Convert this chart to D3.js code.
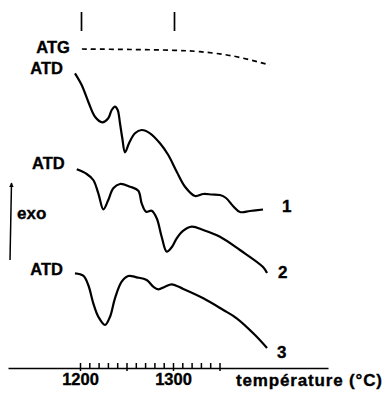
<!DOCTYPE html>
<html>
<head>
<meta charset="utf-8">
<script src="https://cdn.jsdelivr.net/npm/d3@7"></script>
<style>
  body { margin: 0; background: #fff; }
  svg { display: block; font-family: "Liberation Sans", Arial, sans-serif; font-weight: bold; }
  svg text { stroke: #000; stroke-width: 0.35px; fill: #000; }
</style>
</head>
<body>
<script>
// temperature (°C), signal (arbitrary units)
const atg = [[1202, 31.9], [1254, 31.85], [1301, 31.77], [1329, 31.63], [1364.5, 31.2], [1404, 30.3]];

const atd1 = [
  [1194.6, 29.47], [1201.8, 28.3], [1208.9, 26.63], [1216.1, 25.13], [1224.0, 24.57],
  [1230.4, 24.97], [1234.1, 25.8], [1237.6, 26.13], [1240.5, 25.8], [1243.0, 24.47],
  [1245.5, 22.97], [1248.4, 21.57], [1252.7, 22.47], [1259.1, 23.47], [1266.3, 23.8],
  [1275.3, 23.47], [1286.0, 22.47], [1294.9, 21.3], [1304.0, 19.63], [1312.9, 18.13],
  [1323.7, 17.2], [1332.6, 17.4], [1341.9, 17.35], [1350.5, 17.3], [1357.0, 17.0],
  [1364.5, 16.2], [1372.0, 15.6], [1382.8, 15.7], [1396.8, 15.85]
];

const atd2 = [
  [1196.5, 19.87], [1207.2, 19.4], [1214.3, 18.8], [1219.7, 17.47], [1225.1, 15.87],
  [1230.4, 16.8], [1235.8, 17.97], [1243.0, 18.4], [1253.8, 18.13], [1262.7, 17.73],
  [1266.3, 16.47], [1271.0, 15.63], [1277.1, 15.73], [1282.5, 14.97], [1287.8, 13.13],
  [1293.2, 11.63], [1298.6, 12.07], [1304.0, 12.97], [1311.1, 13.73], [1320.1, 14.13],
  [1332.6, 13.8], [1350.5, 13.13], [1372.0, 11.8], [1396.8, 10.1], [1401.1, 9.5]
];

const atd3 = [
  [1194.6, 9.47], [1203.5, 9.23], [1208.9, 8.3], [1214.3, 6.47], [1219.7, 5.13],
  [1226.9, 4.3], [1232.3, 5.13], [1237.6, 6.97], [1244.8, 8.63], [1251.9, 9.2],
  [1261.0, 9.07], [1271.7, 8.8], [1278.8, 8.13], [1284.2, 7.87], [1291.4, 8.13],
  [1298.6, 8.37], [1311.1, 7.9], [1332.6, 6.97], [1354.1, 5.8], [1368.5, 4.97],
  [1388.2, 3.3], [1401.1, 2.0]
];

const curveNames = ["1", "2", "3"];
const minorTicks = d3.range(1200, 1351, 10);
const longTicks = [1200, 1250, 1300, 1350];
const tickLabels = [1200, 1300];
const markerTemps = [1200, 1300];
const axisExtent = [1122.6, 1466.7];
const axisTitle = "température (°C)";

const width = 384;
const height = 395;
const axisY = 368;

const x = d3.scaleLinear().domain([1200, 1300]).range([80, 173]);
const y = d3.scaleLinear().domain([0, 36]).range([368, 8]);

const svg = d3.create("svg")
  .attr("width", width)
  .attr("height", height);

svg.append("rect").attr("width", width).attr("height", height).attr("fill", "#fff");

const line = d3.line()
  .x(d => x(d[0]))
  .y(d => y(d[1]))
  .curve(d3.curveCatmullRom.alpha(0.5));

// ATG (dashed)
svg.append("path")
  .attr("fill", "none")
  .attr("stroke", "#000")
  .attr("stroke-width", 1.7)
  .attr("stroke-dasharray", "5,4")
  .attr("d", line(atg));

// ATD curves
const curves = [atd1, atd2, atd3];
svg.append("g")
  .attr("fill", "none")
  .attr("stroke", "#000")
  .attr("stroke-width", 2.2)
  .attr("stroke-linejoin", "round")
  .selectAll("path")
  .data(curves)
  .join("path")
  .attr("d", d => line(d));

// labels on the left
const leftLabels = [
  { text: "ATG", p: atg[0], dy: 4 },
  { text: "ATD", p: atd1[0], dy: 1 },
  { text: "ATD", p: atd2[0], dy: 0 },
  { text: "ATD", p: atd3[0], dy: 2 }
];
svg.append("g")
  .attr("font-size", 16.5)
  .attr("text-anchor", "end")
  .selectAll("text")
  .data(leftLabels)
  .join("text")
  .attr("x", d => x(d.p[0]) - 12)
  .attr("y", d => y(d.p[1]) + d.dy)
  .text(d => d.text);

// curve numbers on the right
const numOffsets = [[19, 2], [11, 5], [10, 10]];
svg.append("g")
  .attr("font-size", 17)
  .selectAll("text")
  .data(curves)
  .join("text")
  .attr("x", (d, i) => x(d[d.length - 1][0]) + numOffsets[i][0])
  .attr("y", (d, i) => y(d[d.length - 1][1]) + numOffsets[i][1])
  .text((d, i) => curveNames[i]);

// top markers
svg.append("g")
  .attr("stroke", "#000")
  .attr("stroke-width", 1.7)
  .selectAll("line")
  .data(markerTemps)
  .join("line")
  .attr("x1", d => x(d) + 1.5).attr("x2", d => x(d) + 1.5)
  .attr("y1", 12).attr("y2", 31);

// exo arrow
const defs = svg.append("defs");
defs.append("marker")
  .attr("id", "arr")
  .attr("viewBox", "0 0 10 10")
  .attr("refX", 9).attr("refY", 5)
  .attr("markerWidth", 8).attr("markerHeight", 4.5)
  .attr("markerUnits", "userSpaceOnUse")
  .attr("orient", "auto")
  .append("path").attr("d", "M0,0L10,5L0,10Z").attr("fill", "#000");
svg.append("line")
  .attr("x1", 10).attr("y1", 260)
  .attr("x2", 11.5).attr("y2", 183)
  .attr("stroke", "#000").attr("stroke-width", 1.5)
  .attr("marker-end", "url(#arr)");
svg.append("text")
  .attr("x", 17).attr("y", 219)
  .attr("font-size", 17)
  .text("exo");

// x axis
const xa = x.copy().domain(axisExtent).range(axisExtent.map(x));

const gMinor = svg.append("g")
  .attr("transform", `translate(0,${axisY})`)
  .call(d3.axisTop(xa).tickValues(minorTicks).tickSize(5).tickSizeOuter(0).tickFormat(""));
gMinor.select(".domain").attr("stroke-width", 1.7);
gMinor.selectAll(".tick line").attr("stroke-width", 1.5);

const gLong = svg.append("g")
  .attr("transform", `translate(0,${axisY})`)
  .call(d3.axisBottom(xa).tickValues(longTicks).tickSize(3).tickFormat(""));
gLong.select(".domain").remove();
gLong.selectAll(".tick line").attr("stroke-width", 1.5);

const gLab = svg.append("g")
  .attr("transform", `translate(0,${axisY})`)
  .call(d3.axisBottom(xa).tickValues(tickLabels).tickSize(0).tickPadding(5).tickFormat(d3.format("d")));
gLab.select(".domain").remove();
gLab.attr("font-family", null).attr("font-size", null);
gLab.selectAll("text")
  .attr("font-size", 16.5)
  .attr("fill", "#000");

svg.append("text")
  .attr("x", 236).attr("y", 386)
  .attr("font-size", 17)
  .attr("textLength", 146)
  .attr("lengthAdjust", "spacing")
  .text(axisTitle);

document.body.appendChild(svg.node());
</script>
</body>
</html>
